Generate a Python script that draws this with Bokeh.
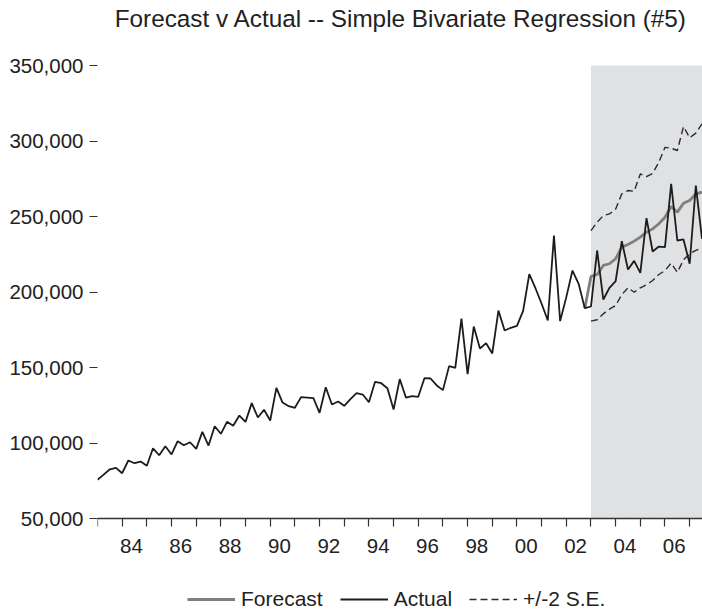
from bokeh.plotting import figure
from bokeh.models import (BoxAnnotation, Legend, LegendItem, FixedTicker,
                          NumeralTickFormatter, Range1d, Label)
from bokeh.embed import file_html
from bokeh.resources import INLINE

# ---------------- data (quarterly, 1983Q1 onward) ----------------
start_year = 1983
actual = [75600, 79100, 82600, 83500, 80000, 88400, 86600, 87700, 84900, 96500,
          91900, 97900, 92400, 101200, 98500, 100500, 96100, 107400, 98300, 111100,
          106100, 114000, 111400, 118200, 114000, 126400, 116900, 122000, 114900, 136500,
          126800, 124400, 123300, 130400, 130100, 129700, 120000, 136900, 125500, 127500,
          124600, 129100, 133000, 132100, 127000, 140500, 139600, 136300, 122200, 142300,
          130100, 131000, 130600, 142900, 142700, 138100, 135000, 150900, 149800, 182400,
          145600, 177100, 162600, 166100, 159300, 187700, 174500, 176300, 177600, 187500,
          211800, 202500, 192200, 181100, 237400, 180700, 196600, 214200, 205400, 189300,
          190400, 227500, 195000, 202800, 207200, 233700, 214900, 220600, 212700, 248900,
          226800, 230100, 229700, 271600, 234100, 234800, 218700, 270500, 235200]

forecast_first = 79   # index of first forecast point (joins the actual series)
forecast = [189300, 210300, 211600, 217600, 218700, 222000, 229700, 231500, 233700,
            236300, 239600, 241800, 245200, 249500, 256600, 252900, 258800, 260600,
            265000, 266100]

band_first = 80       # 2003Q1: start of forecast sample
upper = [240700, 246200, 250600, 251700, 255000, 265000, 267200, 266700, 278200,
         276400, 278600, 285900, 295800, 295200, 293700, 309600, 302100, 305200, 311400]
lower = [180700, 181600, 185600, 188600, 191000, 198300, 202800, 199800, 202800,
         204700, 207600, 211600, 214200, 219100, 213100, 221300, 225300, 227500, 229300]

label_years = [1984, 1986, 1988, 1990, 1992, 1994, 1996, 1998, 2000, 2002, 2004, 2006]
tick_labels = ["84", "86", "88", "90", "92", "94", "96", "98", "00", "02", "04", "06"]
y_ticks = [50000, 100000, 150000, 200000, 250000, 300000, 350000]

title_text = "Forecast v Actual -- Simple Bivariate Regression (#5)"

# ---------------- derived x positions ----------------
quarters = [start_year + i / 4 for i in range(len(actual))]
q_fc = quarters[forecast_first:forecast_first + len(forecast)]
q_band = quarters[band_first:band_first + len(upper)]

FONT = "Liberation Sans"
AX = "#333333"

# The plot frame fills the canvas right of the value labels; the value scale
# (50,000 .. 350,000) occupies px 65..518, title above, tick labels and legend below.
TOP, AXIS_Y, W, H, LEFT = 65, 518, 702, 613, 97
units_per_px = (y_ticks[-1] - y_ticks[0]) / (AXIS_Y - TOP)
y_bottom = y_ticks[0] - (H - AXIS_Y) * units_per_px
y_top = y_ticks[-1] + TOP * units_per_px

p = figure(width=W, height=H, output_backend="svg", toolbar_location=None,
           x_range=Range1d(start_year, quarters[-1] + 0.02),
           y_range=Range1d(y_bottom, y_top),
           min_border_left=LEFT, min_border_right=0, min_border_top=0,
           min_border_bottom=0)
p.title = None
p.outline_line_color = None
p.grid.visible = False
p.background_fill_color = "white"
p.border_fill_color = "white"

shade = BoxAnnotation(left=quarters[band_first], bottom=y_ticks[0], top=y_ticks[-1],
                      fill_color="#e0e1e3", fill_alpha=1,
                      line_color=None, level="underlay")
p.add_layout(shade)

r_up = p.line(q_band, upper, line_color="#2a2a2a", line_width=1.4, line_dash="7 4")
r_lo = p.line(q_band, lower, line_color="#2a2a2a", line_width=1.4, line_dash="7 4")
r_fc = p.line(q_fc, forecast, line_color="#7f7f7f", line_width=2.8)
r_act = p.line(quarters, actual, line_color="#1c1c1c", line_width=1.8)

# ---------------- axes ----------------
xa = p.xaxis[0]
label_pos = [y + 0.375 for y in label_years]
xa.fixed_location = y_ticks[0]
xa.ticker = FixedTicker(ticks=label_pos,
                        minor_ticks=[start_year + k for k in range(0, 26)])
xa.major_label_overrides = {pos: lab for pos, lab in zip(label_pos, tick_labels)}
xa.major_tick_out = 0
xa.major_tick_in = 0
xa.minor_tick_out = 8
xa.minor_tick_in = 0
xa.minor_tick_line_color = AX
xa.minor_tick_line_width = 1.2
xa.axis_line_color = AX
xa.axis_line_width = 1.6
xa.major_label_standoff = 12
xa.major_label_text_font = FONT
xa.major_label_text_font_size = "20.5px"
xa.major_label_text_color = "#222222"

ya = p.yaxis[0]
ya.ticker = FixedTicker(ticks=y_ticks)
ya.formatter = NumeralTickFormatter(format="0,0")
ya.axis_line_color = None
ya.major_tick_out = 8
ya.major_tick_in = 0
ya.minor_tick_line_color = None
ya.major_tick_line_color = AX
ya.major_tick_line_width = 1.2
ya.major_label_standoff = 6
ya.major_label_text_font = FONT
ya.major_label_text_font_size = "20.5px"
ya.major_label_text_color = "#222222"

# ---------------- title ----------------
TITLE_BASELINE = 18
title = Label(x=(W - LEFT) / 2 + 1, y=H - TITLE_BASELINE,
              x_units="screen", y_units="screen", text=title_text,
              text_align="center", text_baseline="alphabetic",
              text_font=FONT, text_font_size="24.3px", text_color="#222222")
p.add_layout(title)

# ---------------- legend ----------------
legend = Legend(items=[LegendItem(label="Forecast", renderers=[r_fc]),
                       LegendItem(label="Actual", renderers=[r_act]),
                       LegendItem(label="+/-2 S.E.", renderers=[r_up])],
                orientation="horizontal", location=(90, 2),
                glyph_width=48, glyph_height=24, label_height=24,
                label_standoff=6, spacing=17, padding=0, margin=0,
                border_line_color=None, background_fill_alpha=0,
                label_text_font=FONT, label_text_font_size="21px",
                label_text_color="#222222")
p.add_layout(legend)

open("out.html", "w").write(file_html(p, INLINE))
